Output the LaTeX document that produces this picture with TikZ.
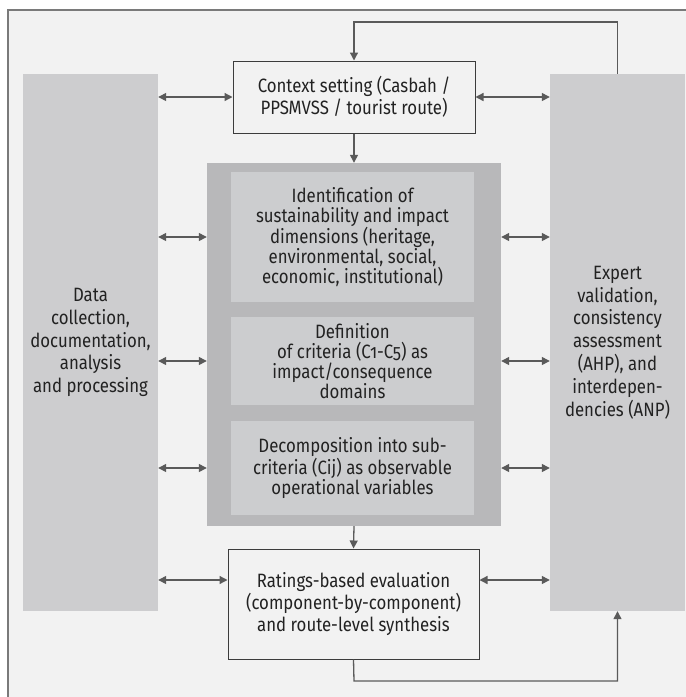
\documentclass[tikz,border=0pt]{standalone}
\usepackage{fontspec}
\setmainfont[Numbers=OldStyle,FakeStretch=0.87]{Fira Sans}
\usetikzlibrary{arrows.meta}

\definecolor{bgcol}{HTML}{F2F2F2}
\definecolor{colcol}{HTML}{CDCDCF}
\definecolor{corecol}{HTML}{B8B8BA}
\definecolor{innercol}{HTML}{CCCDCF}
\definecolor{linecol}{HTML}{5A5A5A}
\definecolor{edgecol}{HTML}{3C3C3C}
\definecolor{txtcol}{HTML}{222222}

\tikzset{
  side/.style={fill=colcol,text=txtcol,align=center,minimum width=135pt,minimum height=537pt,inner sep=0pt,font=\fontsize{19.3}{22.8}\selectfont},
  plainbox/.style={draw=edgecol,line width=1pt,fill=bgcol,text=txtcol,align=center,inner sep=0pt,font=\fontsize{19.3}{22}\selectfont},
  stage/.style={fill=innercol,text=txtcol,align=center,minimum width=243pt,inner sep=0pt,font=\fontsize{19.3}{20}\selectfont},
  conn/.style={draw=linecol,line width=1.3pt,-{Triangle[length=8pt,width=8pt]}},
  both/.style={conn,{Triangle[length=8pt,width=8pt]}-{Triangle[length=8pt,width=8pt]}},
}

\begin{document}
\begin{tikzpicture}[x=1pt,y=-1pt]

\clip (0,0) rectangle (686,697);
% frame
\draw[fill=bgcol,draw=black!52,line width=1.6pt] (8,10) rectangle (720,720);

% side columns
\node[side] (data) at (90.5,342.5) {Data\\collection,\\documentation,\\analysis\\and processing};
\node[side] (expert) at (617.5,342.5) {Expert\\validation,\\consistency\\assessment\\(AHP), and\\interdepen-\\dencies (ANP)};

% middle stack
\node[plainbox,minimum width=242pt,minimum height=72pt] (context) at (354,97) {Context setting (Casbah /\\PPSMVSS / tourist route)};
\node[fill=corecol,minimum width=294pt,minimum height=363pt,inner sep=0pt] (core) at (354,344.5) {};
\node[stage,minimum height=130pt] (ident) at (352.5,237) {Identification of\\sustainability and impact\\dimensions (heritage,\\environmental, social,\\economic, institutional)};
\node[stage,minimum height=88pt] (defin) at (352.5,361) {Definition\\of criteria (C1-C5) as\\impact/consequence\\domains};
\node[stage,minimum height=94pt] (decomp) at (352.5,468) {Decomposition into sub-\\criteria (Cij) as observable\\operational variables};
\node[plainbox,minimum width=251pt,minimum height=110pt] (rating) at (353.5,604) {Ratings-based evaluation\\(component-by-component)\\and route-level synthesis};

\coordinate (top) at (354,22);
\coordinate (bot) at (354,681);
\coordinate (rate) at (353.5,580);

% flow
\draw[conn] (context.south) -- (core.north);
\draw[conn] (core.south) -- (rating.north);
\draw[conn] (expert.north) |- (top) -- (context.north);
\draw[conn] (rating.south) -- (bot) -| (expert.south);

% exchanges with the side columns
\draw[both] (data.east |- context) -- (context.west);
\draw[both] (context.east) -- (expert.west |- context);
\foreach \s in {ident,defin,decomp}{
  \draw[both] (data.east |- \s) -- (core.west |- \s);
  \draw[both] (core.east |- \s) -- (expert.west |- \s);
}
\draw[both] (data.east |- rate) -- (rating.west |- rate);
\draw[both] (rating.east |- rate) -- (expert.west |- rate);

\end{tikzpicture}
\end{document}
